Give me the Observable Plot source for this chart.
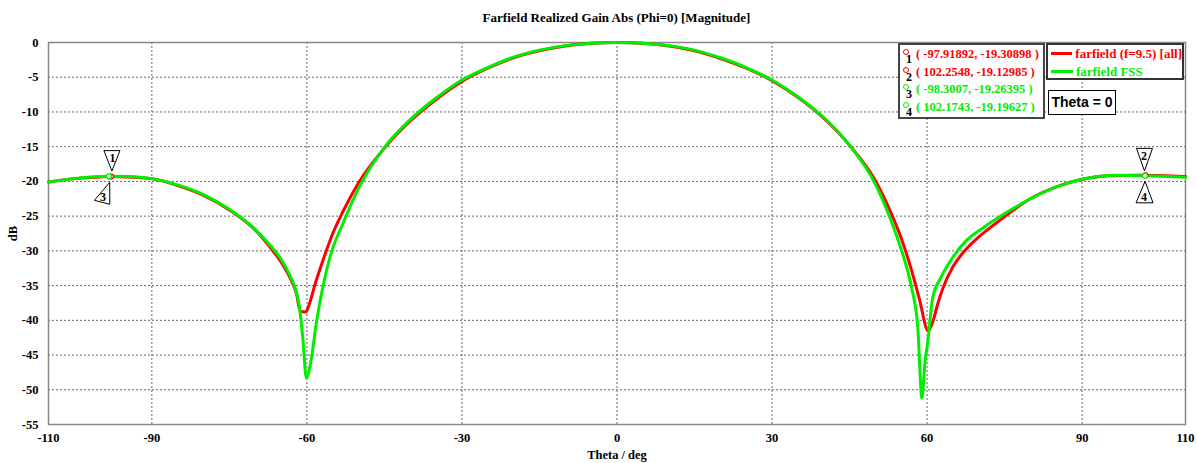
<!DOCTYPE html>
<html>
<head>
<meta charset="utf-8">
<script src="https://cdn.jsdelivr.net/npm/d3@7"></script>
<script src="https://cdn.jsdelivr.net/npm/@observablehq/plot@0.6"></script>
<style>
  body { margin: 0; background: #fff; }
  #wrap { position: relative; width: 1197px; height: 463px; overflow: hidden; }
  #title { height: 30px; box-sizing: border-box; padding-top: 10px; padding-left: 48px; width: 1185px;
    text-align: center; font: bold 13px "Liberation Serif", serif; color: #000; }
  .box { position: absolute; background: #fff; box-sizing: border-box; }
  .mk { font: bold 12.5px "Liberation Serif", serif; line-height: 17.6px; white-space: nowrap; position: relative; padding-left: 16px; }
  .mk .c { position: absolute; left: 3px; top: 3px; width: 4px; height: 4px; border-radius: 50%; border: 1.2px solid; }
  .mk .n { position: absolute; left: 6px; top: 6px; color: #000; font: bold 12px "Liberation Serif", serif; }
  .lg { font: bold 13px "Liberation Serif", serif; line-height: 17.6px; white-space: nowrap; display: flex; align-items: center; }
  .lg .sw { display: inline-block; width: 22px; height: 3px; margin: 0 3px 0 3px; }
</style>
</head>
<body>
<div id="wrap">
  <div id="title">Farfield Realized Gain Abs (Phi=0) [Magnitude]</div>
  <div id="chart"></div>
</div>
<script>
// ---- data ----
const thetaAll = [-110,-105,-100,-98,-95,-90,-85,-80,-75,-70,-67,-65,-63,-62,-61.3,-60.2,-59.5,-58.5,-57,-55,-53,-50,-45,-40,-35,-30,-25,-20,-15,-10,-5,0,5,10,15,20,25,30,35,40,45,50,53,55,57,58.5,60.2,61.2,62,63,65,67.5,70,73,76,80,85,90,95,100,102.3,105,110];
const gainAll  = [-20.1,-19.6,-19.35,-19.31,-19.35,-19.6,-20.6,-22.0,-24.1,-27.0,-29.6,-31.6,-34.3,-36.2,-38.7,-38.8,-37.6,-35.0,-31.6,-27.5,-24.3,-20.2,-15.2,-11.3,-8.2,-5.6,-3.7,-2.2,-1.2,-0.5,-0.1,0,-0.1,-0.5,-1.2,-2.3,-3.7,-5.5,-7.9,-10.9,-14.8,-19.9,-24.5,-28.2,-32.8,-36.9,-41.5,-40.0,-37.8,-35.5,-32.3,-29.8,-28.0,-26.2,-24.5,-22.5,-20.8,-19.7,-19.2,-19.1,-19.13,-19.15,-19.3];
const thetaFss = [-110,-105,-100,-98.3,-95,-90,-85,-80,-75,-70,-67,-65,-63,-62,-61.5,-60.8,-60.1,-59.2,-58.2,-57,-55.5,-53,-50,-45,-40,-35,-30,-25,-20,-15,-10,-5,0,5,10,15,20,25,30,35,40,45,50,53,55,57,58.2,59.0,59.6,60.1,61.1,62.7,64.3,67.5,70.8,76,80.5,85,90,96.6,102.2,106,110];
const gainFss  = [-20.1,-19.6,-19.3,-19.26,-19.3,-19.6,-20.5,-21.9,-24.0,-26.9,-29.3,-31.2,-34.0,-36.0,-37.8,-42.5,-48.3,-45.8,-40.5,-35.5,-30.8,-26.0,-21.0,-15.1,-11.1,-8.0,-5.4,-3.6,-2.1,-1.1,-0.45,-0.1,0,-0.1,-0.45,-1.1,-2.2,-3.6,-5.4,-7.8,-10.8,-14.8,-20.4,-25.6,-29.8,-35.3,-41.0,-51.2,-46.0,-43.3,-36.7,-33.8,-31.7,-28.6,-26.7,-24.2,-22.3,-20.8,-19.7,-19.1,-19.2,-19.25,-19.4];
const markerId    = ["1","2","3","4"];
const markerTheta = [-97.91892, 102.2548, -98.3007, 102.1743];
const markerGain  = [-19.30898, -19.12985, -19.26395, -19.19627];
const markerSeries = ["all","all","fss","fss"];
const seriesNames = ["farfield (f=9.5) [all]", "farfield FSS"];
const xTicks = [-110,-90,-60,-30,0,30,60,90,110];
const yTicks = [0,-5,-10,-15,-20,-25,-30,-35,-40,-45,-50,-55];

const RED = "#ff0000", GREEN = "#00ee00";
const rowsAll = thetaAll.map((t,i)=>({theta:t, gain:gainAll[i]}));
const rowsFss = thetaFss.map((t,i)=>({theta:t, gain:gainFss[i]}));
const markers = markerId.map((id,i)=>({id, theta:markerTheta[i], gain:markerGain[i], s:markerSeries[i]}));

function poly(pts){ return {draw(ctx){ ctx.moveTo(pts[0][0],pts[0][1]); for (let k=1;k<pts.length;k++) ctx.lineTo(pts[k][0],pts[k][1]); ctx.closePath(); }}; }
const triSyms = {
  "1": poly([[-7,-26],[9,-26],[1,-5.5]]),
  "2": poly([[-9,-27],[7,-27],[-1,-4.5]]),
  "3": poly([[0.8,6],[-14.5,24],[0.8,28]]),
  "4": poly([[0,5.5],[-9,27],[8,27]])
};
const numOff = {"1":[1.5,-18.5],"2":[-1.5,-19.5],"3":[-6,21],"4":[-1,21.5]};

const marks = [
  Plot.gridX(xTicks, {stroke:"#666", strokeOpacity:1, strokeDasharray:"2,2"}),
  Plot.gridY(yTicks, {stroke:"#666", strokeOpacity:1, strokeDasharray:"2,2"}),
  Plot.frame({stroke:"#888", strokeWidth:1.5}),
  Plot.line(rowsAll, {x:"theta", y:"gain", stroke:RED, strokeWidth:3, curve:"monotone-x"}),
  Plot.line(rowsFss, {x:"theta", y:"gain", stroke:GREEN, strokeWidth:3, curve:"monotone-x"}),
];
for (const m of markers) {
  marks.push(Plot.dot([m], {x:"theta", y:"gain", r:5, symbol: triSyms[m.id], fill:"white", stroke:"black", strokeWidth:1}));
  marks.push(Plot.text([m], {x:"theta", y:"gain", text:"id", dx:numOff[m.id][0], dy:numOff[m.id][1], fontSize:12, fontWeight:"bold", fill:"black"}));
}
marks.push(Plot.dot(markers, {x:"theta", y:"gain", r:2.5, fill:"white", stroke:d=>d.s==="all"?RED:GREEN, strokeWidth:1.3}));
marks.push(Plot.axisX({ticks:xTicks, tickSize:0, tickPadding:9, tickFormat:d=>String(d), label:"Theta / deg", labelAnchor:"center", labelArrow:"none", labelOffset:34}));
marks.push(Plot.axisY({ticks:yTicks, tickSize:0, tickPadding:10, tickFormat:d=>String(d), label:"dB", labelAnchor:"center", labelArrow:"none", labelOffset:40}));

const chart = Plot.plot({
  width:1197, height:433,
  marginTop:12, marginBottom:39, marginLeft:48, marginRight:12,
  x:{domain:[-110,110]},
  y:{domain:[-55,0]},
  style:{fontFamily:"'Liberation Serif', serif", fontSize:"12.5px", fontWeight:"bold", color:"#000", background:"#fff"},
  marks
});
document.getElementById("chart").appendChild(chart);

// ---- legend boxes ----
const wrap = document.getElementById("wrap");
const fmt = v => String(v);
const b1 = document.createElement("div");
b1.className = "box";
Object.assign(b1.style, {left:"898px", top:"43px", width:"147px", height:"76px", border:"2px solid #444", paddingTop:"1px"});
markers.forEach(m => {
  const col = m.s==="all" ? RED : GREEN;
  const row = document.createElement("div");
  row.className = "mk";
  row.style.color = col;
  row.innerHTML = `<span class="c" style="border-color:${col}"></span><span class="n">${m.id}</span>( ${fmt(m.theta)}, ${fmt(m.gain)} )`;
  b1.appendChild(row);
});
wrap.appendChild(b1);

const b2 = document.createElement("div");
b2.className = "box";
Object.assign(b2.style, {left:"1046px", top:"43px", width:"138px", height:"37px", border:"2px solid #333", paddingTop:"0px"});
seriesNames.forEach((name,i) => {
  const col = i===0 ? RED : GREEN;
  const row = document.createElement("div");
  row.className = "lg";
  row.style.color = col;
  row.innerHTML = `<span class="sw" style="background:${col}"></span>${name}`;
  b2.appendChild(row);
});
wrap.appendChild(b2);

const b3 = document.createElement("div");
b3.className = "box";
Object.assign(b3.style, {left:"1048px", top:"90px", width:"68px", height:"25px", border:"1.5px solid #000",
  font:"bold 14px 'Liberation Sans', Arial, sans-serif", textAlign:"center", lineHeight:"22px", color:"#000"});
b3.textContent = "Theta = 0";
wrap.appendChild(b3);
</script>
</body>
</html>
